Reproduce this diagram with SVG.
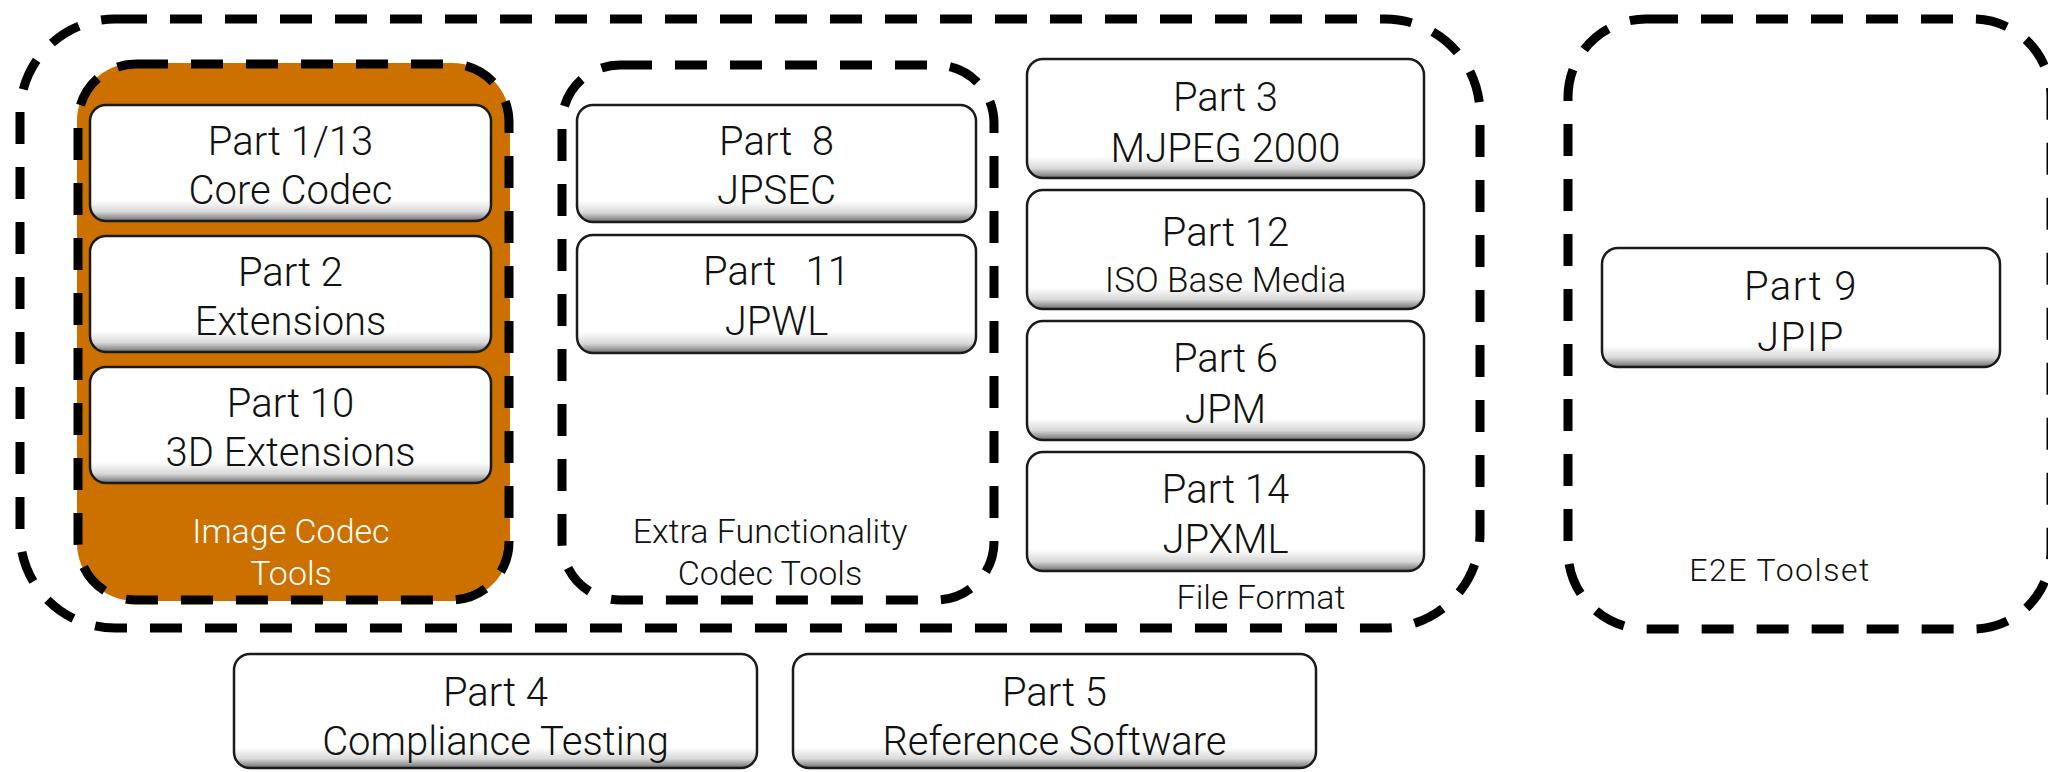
<svg xmlns="http://www.w3.org/2000/svg" width="2048" height="772" viewBox="0 0 2048 772">
<style>
.grp{fill:none;stroke:#000;stroke-width:9;stroke-dasharray:32 23}
.box{fill:url(#bg);stroke:#1a1a1a;stroke-width:2.5}
.t{font-family:Roboto,"Liberation Sans",Arial,sans-serif;font-weight:300;font-size:40px;fill:#111;text-anchor:middle;white-space:pre}
.s{font-size:35px}
.l{font-family:Roboto,"Liberation Sans",Arial,sans-serif;font-weight:300;font-size:34px;fill:#111;text-anchor:middle}
.r{letter-spacing:1.5px}
.w{fill:#fff}
</style>
<defs>
<linearGradient id="bg" x1="0" y1="0" x2="0" y2="1">
<stop offset="0" stop-color="#ffffff"/>
<stop offset="0.82" stop-color="#ffffff"/>
<stop offset="0.92" stop-color="#d8d8d8"/>
<stop offset="1" stop-color="#6e6e6e"/>
</linearGradient>
</defs>

<g id="file-tools-group">
<rect class="grp" x="20" y="19" width="1460" height="609" rx="95" ry="95"/>
</g>

<g id="image-codec-tools">
<rect x="77" y="63" width="433" height="538" rx="58" ry="58" fill="#CC7000"/>
<rect class="grp" x="78" y="64" width="431" height="536" rx="58" ry="58"/>
<text class="l w" x="291" y="543">Image Codec</text>
<text class="l w" x="291" y="585">Tools</text>
</g>

<g id="part1">
<rect class="box" x="90" y="105" width="401" height="116" rx="16"/>
<text class="t" x="290.5" y="155">Part 1/13</text>
<text class="t" x="290.5" y="204">Core Codec</text>
</g>
<g id="part2">
<rect class="box" x="90" y="236" width="401" height="116" rx="16"/>
<text class="t" x="290.5" y="286">Part 2</text>
<text class="t" x="290.5" y="335">Extensions</text>
</g>
<g id="part10">
<rect class="box" x="90" y="367" width="401" height="116" rx="16"/>
<text class="t" x="290.5" y="417">Part 10</text>
<text class="t" x="290.5" y="466">3D Extensions</text>
</g>

<g id="extra-functionality">
<rect class="grp" x="562" y="65" width="432" height="535" rx="58" ry="58"/>
<text class="l" x="770" y="543">Extra Functionality</text>
<text class="l" x="770" y="585">Codec Tools</text>
</g>
<g id="part8">
<rect class="box" x="577" y="105" width="399" height="117" rx="16"/>
<text class="t" x="776.5" y="155">Part  8</text>
<text class="t" x="776.5" y="204">JPSEC</text>
</g>
<g id="part11">
<rect class="box" x="577" y="235" width="399" height="118" rx="16"/>
<text class="t" x="776.5" y="285">Part   11</text>
<text class="t" x="776.5" y="335">JPWL</text>
</g>

<g id="file-format">
<text class="l" x="1261" y="609">File Format</text>
</g>
<g id="part3">
<rect class="box" x="1027" y="59" width="397" height="119" rx="16"/>
<text class="t" x="1225.5" y="111">Part 3</text>
<text class="t" x="1225.5" y="162">MJPEG 2000</text>
</g>
<g id="part12">
<rect class="box" x="1027" y="190" width="397" height="119" rx="16"/>
<text class="t" x="1225.5" y="246">Part 12</text>
<text class="t s" x="1225.5" y="292">ISO Base Media</text>
</g>
<g id="part6">
<rect class="box" x="1027" y="321" width="397" height="119" rx="16"/>
<text class="t" x="1225.5" y="372">Part 6</text>
<text class="t" x="1225.5" y="423">JPM</text>
</g>
<g id="part14">
<rect class="box" x="1027" y="452" width="397" height="119" rx="16"/>
<text class="t" x="1225.5" y="503">Part 14</text>
<text class="t" x="1225.5" y="553">JPXML</text>
</g>

<g id="e2e-toolset">
<rect class="grp" x="1568" y="19" width="483" height="610" rx="78" ry="78"/>
<text class="l r" x="1780" y="581" style="font-size:32px">E2E Toolset</text>
</g>
<g id="part9">
<rect class="box" x="1602" y="248" width="398" height="119" rx="16"/>
<text class="t r" x="1801" y="300">Part 9</text>
<text class="t r" x="1801" y="351">JPIP</text>
</g>

<g id="part4">
<rect class="box" x="234" y="654" width="523" height="114" rx="16"/>
<text class="t" x="495.5" y="706">Part 4</text>
<text class="t" x="495.5" y="755">Compliance Testing</text>
</g>
<g id="part5">
<rect class="box" x="793" y="654" width="523" height="114" rx="16"/>
<text class="t" x="1054.5" y="706">Part 5</text>
<text class="t" x="1054.5" y="755">Reference Software</text>
</g>

<g id="connectors"></g>
</svg>
